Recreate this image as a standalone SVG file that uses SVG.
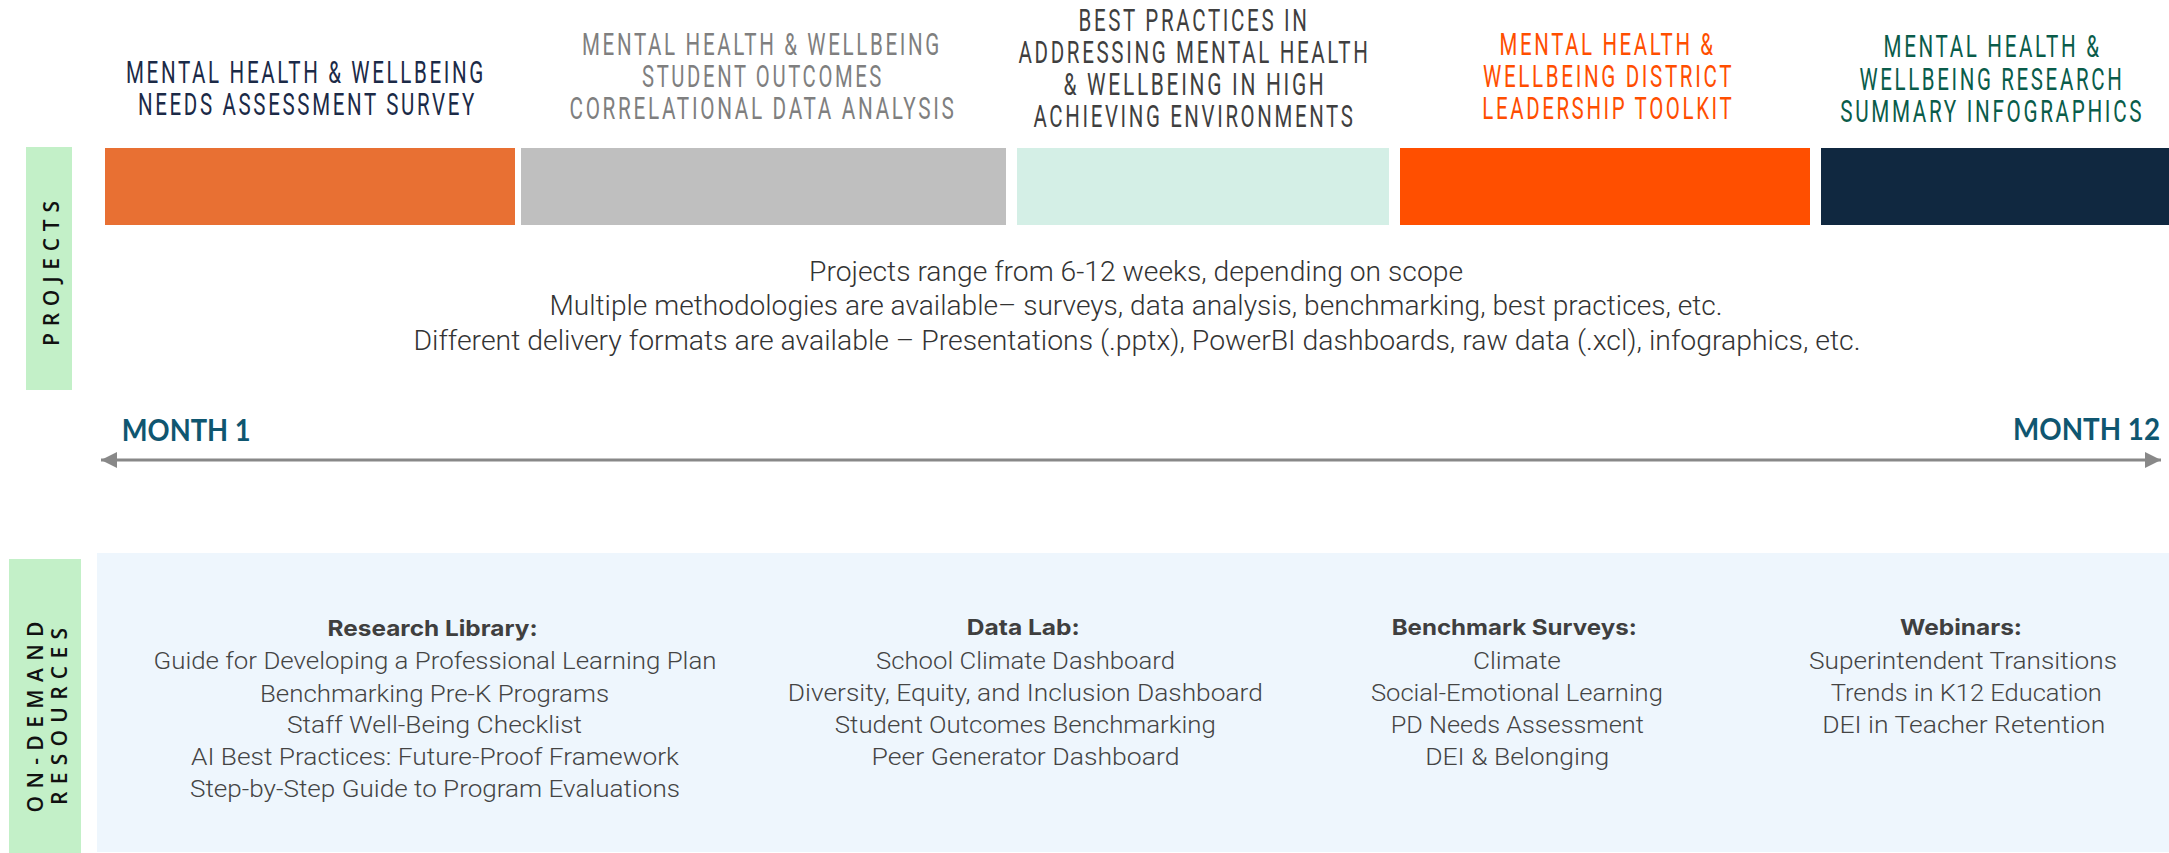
<svg xmlns="http://www.w3.org/2000/svg" width="2169" height="853" viewBox="0 0 2169 853">
<style>
.ttl{font-family:"Liberation Sans Narrow","Roboto",sans-serif;font-size:31px;letter-spacing:4px;text-anchor:middle}
.mid{font-family:"Roboto","Lato",sans-serif;font-weight:300;font-size:28px;fill:#333333;text-anchor:middle}
.side{font-family:"Open Sans","DejaVu Sans",sans-serif;font-weight:600;fill:#111111;text-anchor:middle}
.month{font-family:"Lato","Open Sans",sans-serif;font-weight:700;font-size:30px;fill:#0F5670}
.hd{font-family:"Inter","Roboto",sans-serif;font-weight:700;font-size:22px;fill:#3f3f3f;text-anchor:middle}
.it{font-family:"Roboto","Lato",sans-serif;font-weight:300;font-size:24.5px;fill:#444444;text-anchor:middle}
.green{fill:#C3F0C8}
</style>
<defs>
<marker id="tri" viewBox="0 0 16 16" refX="16" refY="8" markerWidth="16" markerHeight="16" markerUnits="userSpaceOnUse" orient="auto-start-reverse">
<path d="M0,0 L16,8 L0,16 Z" fill="#888888"/>
</marker>
</defs>
<rect width="2169" height="853" fill="#ffffff"/>

<g id="projects-label">
<rect class="green" x="26" y="147" width="46" height="243"/>
<text class="side" font-size="21" letter-spacing="9" transform="translate(58.5,269) rotate(-90)" textLength="154" lengthAdjust="spacing">PROJECTS</text>
</g>

<g id="project-1">
<rect x="105" y="148" width="410" height="77" fill="#E87033"/>
<text class="ttl" fill="#1B2A47"><tspan x="306" y="83" textLength="360" lengthAdjust="spacingAndGlyphs">MENTAL HEALTH &amp; WELLBEING</tspan><tspan x="307.5" y="115" textLength="339" lengthAdjust="spacingAndGlyphs">NEEDS ASSESSMENT SURVEY</tspan></text>
</g>
<g id="project-2">
<rect x="521" y="148" width="485" height="77" fill="#BFBFBF"/>
<text class="ttl" fill="#7F7F7F"><tspan x="762" y="55" textLength="360" lengthAdjust="spacingAndGlyphs">MENTAL HEALTH &amp; WELLBEING</tspan><tspan x="763" y="87" textLength="242" lengthAdjust="spacingAndGlyphs">STUDENT OUTCOMES</tspan><tspan x="763" y="118.5" textLength="387" lengthAdjust="spacingAndGlyphs">CORRELATIONAL DATA ANALYSIS</tspan></text>
</g>
<g id="project-3">
<rect x="1017" y="148" width="372" height="77" fill="#D4EFE6"/>
<text class="ttl" fill="#3F3F3F"><tspan x="1194" y="30.7" textLength="231" lengthAdjust="spacingAndGlyphs">BEST PRACTICES IN</tspan><tspan x="1194.5" y="63.3" textLength="352" lengthAdjust="spacingAndGlyphs">ADDRESSING MENTAL HEALTH</tspan><tspan x="1195" y="95" textLength="263" lengthAdjust="spacingAndGlyphs">&amp; WELLBEING IN HIGH</tspan><tspan x="1194.5" y="126.7" textLength="322" lengthAdjust="spacingAndGlyphs">ACHIEVING ENVIRONMENTS</tspan></text>
</g>
<g id="project-4">
<rect x="1400" y="148" width="410" height="77" fill="#FF4F00"/>
<text class="ttl" fill="#FF4E00"><tspan x="1607.6" y="55" textLength="216" lengthAdjust="spacingAndGlyphs">MENTAL HEALTH &amp;</tspan><tspan x="1608.6" y="87.3" textLength="251" lengthAdjust="spacingAndGlyphs">WELLBEING DISTRICT</tspan><tspan x="1608.3" y="119" textLength="252" lengthAdjust="spacingAndGlyphs">LEADERSHIP TOOLKIT</tspan></text>
</g>
<g id="project-5">
<rect x="1821" y="148" width="348" height="77" fill="#102840"/>
<text class="ttl" fill="#0A5C4A"><tspan x="1992.6" y="56.7" textLength="218" lengthAdjust="spacingAndGlyphs">MENTAL HEALTH &amp;</tspan><tspan x="1991.9" y="90" textLength="265" lengthAdjust="spacingAndGlyphs">WELLBEING RESEARCH</tspan><tspan x="1992.2" y="121.7" textLength="304" lengthAdjust="spacingAndGlyphs">SUMMARY INFOGRAPHICS</tspan></text>
</g>

<g id="projects-notes">
<text class="mid"><tspan x="1136" y="281" textLength="654" lengthAdjust="spacingAndGlyphs">Projects range from 6-12 weeks, depending on scope</tspan><tspan x="1136" y="315" textLength="1173" lengthAdjust="spacingAndGlyphs">Multiple methodologies are available– surveys, data analysis, benchmarking, best practices, etc.</tspan><tspan x="1137" y="350" textLength="1447" lengthAdjust="spacingAndGlyphs">Different delivery formats are available – Presentations (.pptx), PowerBI dashboards, raw data (.xcl), infographics, etc.</tspan></text>
</g>

<g id="timeline-labels">
<text class="month" x="121.7" y="440.5" textLength="129" lengthAdjust="spacingAndGlyphs">MONTH 1</text>
<text class="month" x="2160" y="440" text-anchor="end" textLength="147" lengthAdjust="spacingAndGlyphs">MONTH 12</text>
</g>

<g id="connectors">
<line x1="101" y1="460" x2="2161" y2="460" stroke="#888888" stroke-width="3" marker-start="url(#tri)" marker-end="url(#tri)"/>
</g>

<g id="on-demand-label">
<rect class="green" x="9" y="559" width="72" height="294"/>
<text class="side" font-size="21" letter-spacing="10" transform="translate(42.5,712) rotate(-90)" textLength="201" lengthAdjust="spacing">ON-DEMAND</text>
<text class="side" font-size="21" letter-spacing="10" transform="translate(66.5,711.5) rotate(-90)" textLength="187" lengthAdjust="spacing">RESOURCES</text>
</g>

<g id="on-demand-panel">
<rect x="97" y="553" width="2072" height="299" fill="#EEF6FD"/>
</g>

<g id="research-library">
<text class="hd" x="432.6" y="636" textLength="210" lengthAdjust="spacingAndGlyphs">Research Library:</text>
<text class="it"><tspan x="435" y="669" textLength="563" lengthAdjust="spacingAndGlyphs">Guide for Developing a Professional Learning Plan</tspan><tspan x="434.5" y="701.5" textLength="349" lengthAdjust="spacingAndGlyphs">Benchmarking Pre-K Programs</tspan><tspan x="434.5" y="733" textLength="295" lengthAdjust="spacingAndGlyphs">Staff Well-Being Checklist</tspan><tspan x="435" y="765" textLength="488" lengthAdjust="spacingAndGlyphs">AI Best Practices: Future-Proof Framework</tspan><tspan x="435" y="797" textLength="490" lengthAdjust="spacingAndGlyphs">Step-by-Step Guide to Program Evaluations</tspan></text>
</g>

<g id="data-lab">
<text class="hd" x="1023.3" y="635" textLength="113" lengthAdjust="spacingAndGlyphs">Data Lab:</text>
<text class="it"><tspan x="1025.5" y="669" textLength="299" lengthAdjust="spacingAndGlyphs">School Climate Dashboard</tspan><tspan x="1025.3" y="701" textLength="475" lengthAdjust="spacingAndGlyphs">Diversity, Equity, and Inclusion Dashboard</tspan><tspan x="1025.3" y="733" textLength="381" lengthAdjust="spacingAndGlyphs">Student Outcomes Benchmarking</tspan><tspan x="1025.5" y="765" textLength="308" lengthAdjust="spacingAndGlyphs">Peer Generator Dashboard</tspan></text>
</g>

<g id="benchmark-surveys">
<text class="hd" x="1514.2" y="635" textLength="245" lengthAdjust="spacingAndGlyphs">Benchmark Surveys:</text>
<text class="it"><tspan x="1516.9" y="669" textLength="88" lengthAdjust="spacingAndGlyphs">Climate</tspan><tspan x="1516.9" y="701" textLength="292" lengthAdjust="spacingAndGlyphs">Social-Emotional Learning</tspan><tspan x="1517.3" y="733" textLength="253" lengthAdjust="spacingAndGlyphs">PD Needs Assessment</tspan><tspan x="1517.2" y="765" textLength="184" lengthAdjust="spacingAndGlyphs">DEI &amp; Belonging</tspan></text>
</g>

<g id="webinars">
<text class="hd" x="1961" y="635" textLength="122" lengthAdjust="spacingAndGlyphs">Webinars:</text>
<text class="it"><tspan x="1963" y="669" textLength="308" lengthAdjust="spacingAndGlyphs">Superintendent Transitions</tspan><tspan x="1966.2" y="701" textLength="271" lengthAdjust="spacingAndGlyphs">Trends in K12 Education</tspan><tspan x="1963.7" y="733" textLength="283" lengthAdjust="spacingAndGlyphs">DEI in Teacher Retention</tspan></text>
</g>
</svg>
